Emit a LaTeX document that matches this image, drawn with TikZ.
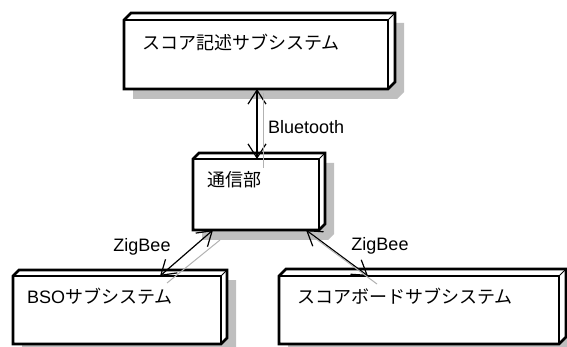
\documentclass[tikz,border=0pt]{standalone}
\usepackage{fontspec}
\setmainfont{Liberation Sans}
\newfontfamily\jp{Noto Sans CJK JP}
\usetikzlibrary{arrows.meta}
\tikzset{
  frontbox/.style={draw, line width=2.6pt, inner sep=0pt, outer sep=0pt, rectangle},
  outerbox/.style={fill=white, draw, line width=2.6pt, line join=miter},
  edgeline/.style={line width=1pt},
  boxshadow/.style={fill=black!25},
  conn/.style={line width=1.2pt,
    {Straight Barb[length=14pt,width=18pt,line width=1.2pt]}-{Straight Barb[length=14pt,width=18pt,line width=1.2pt]}},
  shadowline/.style={draw=black!30, line width=1pt},
  lbl/.style={font=\fontsize{18}{21}\selectfont, inner sep=0pt, anchor=west},
}
\newcommand\depbox[6]{%
  \fill[boxshadow] (#2+9,#3+10) -- (#2+9+#6,#3+10-#6) -- (#4+9+#6,#3+10-#6) -- (#4+9+#6,#5+10-#6) -- (#4+9,#5+10) -- (#2+9,#5+10) -- cycle;
  \filldraw[outerbox] (#2,#3) -- (#2+#6,#3-#6) -- (#4+#6,#3-#6) -- (#4+#6,#5-#6) -- (#4,#5) -- (#2,#5) -- cycle;
  \node[frontbox, minimum width={(#4-#2)*1pt}, minimum height={(#5-#3)*1pt}, anchor=north west] (#1) at (#2,#3) {};
  \draw[edgeline] (#1.north east) -- ++(#6,-#6);
}
\begin{document}
\begin{tikzpicture}[x=1pt, y=-1pt]
\useasboundingbox (0,0) rectangle (567,347);
\depbox{top}{124}{20}{388}{89}{7}
\depbox{mid}{193}{159}{319}{230}{6}
\depbox{bso}{13}{276}{221}{344}{6}
\depbox{score}{279}{276}{559}{344}{7}

\node[lbl] (lt) at (142,42) {\jp スコア記述サブシステム};
\node[lbl] (lm) at (207,180) {\jp 通信部};
\node[lbl] (lb) at (27,296) {BSO\jp サブシステム};
\node[lbl] (ls) at (297,296) {\jp スコアボードサブシステム};

\draw[conn] ([xshift=1pt]mid.north) -- ([xshift=1pt]top.south);
\draw[conn] ([xshift=20pt]mid.south west) -- ([xshift=147pt]bso.north west);
\draw[conn] ([xshift=-13pt]mid.south east) -- ([xshift=89pt]score.north west);

\draw[shadowline] ([shift={(7pt,-4pt)}]top.south) -- ([shift={(7pt,-9pt)}]mid.north);
\draw[shadowline] ([shift={(27pt,-10pt)}]mid.south west) -- ([shift={(154pt,-7pt)}]bso.north west);
\draw[shadowline] ([shift={(-7pt,-6pt)}]mid.south east) -- ([shift={(98pt,-8pt)}]score.north west);

\node[lbl] (bt) at (268,127) {Bluetooth};
\node[lbl, anchor=center] (zl) at (142,247) {ZigBee};
\node[lbl, anchor=center] (zr) at (380,246) {ZigBee};
\end{tikzpicture}
\end{document}
